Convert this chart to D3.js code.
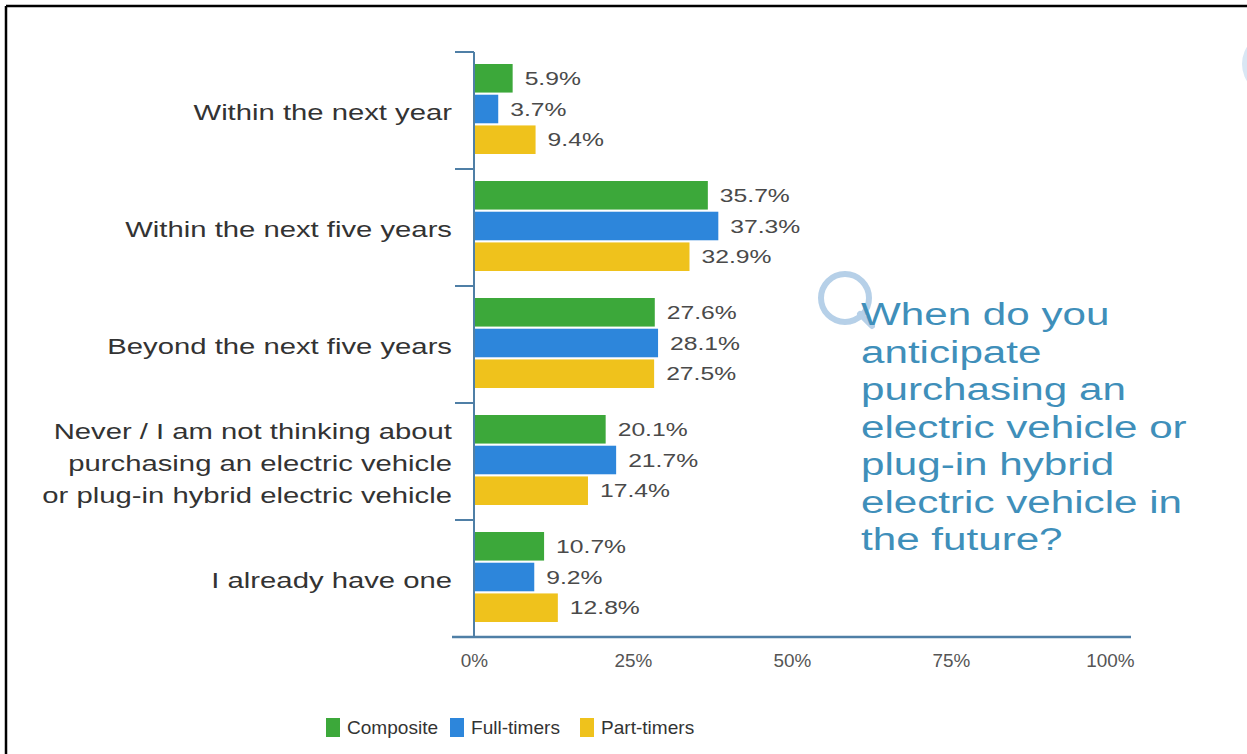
<!DOCTYPE html>
<html>
<head>
<meta charset="utf-8">
<script src="https://cdn.jsdelivr.net/npm/d3@7"></script>
<style>
  body { margin: 0; background: #fff; }
  svg { display: block; font-family: "Liberation Sans", Arial, sans-serif; }
</style>
</head>
<body>
<div id="chart"></div>
<script>
const categories = [
  ['Within the next year'],
  ['Within the next five years'],
  ['Beyond the next five years'],
  ['Never / I am not thinking about', 'purchasing an electric vehicle', 'or plug-in hybrid electric vehicle'],
  ['I already have one'],
];
const series = ['Composite', 'Full-timers', 'Part-timers'];
const composite = [5.9, 35.7, 27.6, 20.1, 10.7];
const fullTimers = [3.7, 37.3, 28.1, 21.7, 9.2];
const partTimers = [9.4, 32.9, 27.5, 17.4, 12.8];
const ticks = [0, 25, 50, 75, 100];
const question = ['When do you', 'anticipate', 'purchasing an', 'electric vehicle or',
  'plug-in hybrid', 'electric vehicle in', 'the future?'];

const colors = { 'Composite': '#3ca83a', 'Full-timers': '#2d86db', 'Part-timers': '#efc21c' };
const values = { 'Composite': composite, 'Full-timers': fullTimers, 'Part-timers': partTimers };

const width = 1247, height = 754;
const svg = d3.select('#chart').append('svg')
  .attr('width', width).attr('height', height);

svg.append('rect').attr('width', width).attr('height', height).attr('fill', '#fff');

// frame edges (top and left only)
svg.append('line').attr('x1', 6).attr('x2', width).attr('y1', 6).attr('y2', 6)
  .attr('stroke', '#000').attr('stroke-width', 2.5);
svg.append('line').attr('x1', 6).attr('x2', 6).attr('y1', 6).attr('y2', height)
  .attr('stroke', '#000').attr('stroke-width', 2.5);

// faint circle at top right
svg.append('circle').attr('cx', 1274).attr('cy', 64).attr('r', 32)
  .attr('fill', '#d9e7f4');

const x0 = 474;
const xScale = d3.scaleLinear().domain([0, 100]).range([x0, 1129]);
const axisScale = d3.scaleLinear().domain([0, 100]).range([x0, 1110]);

const keys = categories.map((c, i) => i);
const yScale = d3.scaleBand().domain(keys).range([52, 637]);
const ySub = d3.scaleBand().domain(series).range([12, 102]).paddingInner(0.07);

const axisColor = '#4f7fa6';

const groups = svg.append('g').selectAll('g')
  .data(keys)
  .join('g')
  .attr('transform', (i) => `translate(0,${yScale(i)})`);

series.forEach((s) => {
  groups.append('rect')
    .attr('x', x0)
    .attr('y', ySub(s))
    .attr('width', (i) => xScale(values[s][i]) - x0)
    .attr('height', ySub.bandwidth())
    .attr('fill', colors[s]);

  // text in the source looks stretched sideways, so scale x a bit
  groups.append('text')
    .attr('transform', (i) =>
      `translate(${xScale(values[s][i]) + 12},${ySub(s) + ySub.bandwidth() / 2}) scale(1.3,1)`)
    .attr('dy', '0.35em')
    .attr('font-size', 19)
    .attr('fill', '#4a4a4a')
    .text((i) => values[s][i].toFixed(1) + '%');
});

// category labels
groups.each(function (i) {
  const lines = categories[i];
  const lh = 32;
  const cy = yScale.bandwidth() / 2 + 2;
  const t = d3.select(this).append('text')
    .attr('transform', 'translate(452,0) scale(1.33,1)')
    .attr('text-anchor', 'end')
    .attr('font-size', 22)
    .attr('fill', '#333');
  lines.forEach((ln, k) => {
    t.append('tspan')
      .attr('x', 0)
      .attr('y', cy + (k - (lines.length - 1) / 2) * lh)
      .attr('dy', '0.35em')
      .text(ln);
  });
});

// vertical axis with group separators
const sepY = keys.map((i) => yScale(i));
svg.append('line').attr('x1', x0).attr('x2', x0).attr('y1', 52).attr('y2', 637)
  .attr('stroke', axisColor).attr('stroke-width', 2);
svg.append('g').selectAll('line').data(sepY).join('line')
  .attr('x1', 455).attr('x2', x0).attr('y1', (d) => d).attr('y2', (d) => d)
  .attr('stroke', axisColor).attr('stroke-width', 2);

// horizontal axis
svg.append('line').attr('x1', 452).attr('x2', 1131).attr('y1', 637).attr('y2', 637)
  .attr('stroke', axisColor).attr('stroke-width', 2.5);

const xAxis = svg.append('g')
  .attr('transform', 'translate(0,637)')
  .call(d3.axisBottom(axisScale).tickValues(ticks).tickSize(0).tickPadding(0)
    .tickFormat((d) => d + '%'));
xAxis.select('.domain').remove();
xAxis.selectAll('.tick text')
  .attr('y', 0).attr('dy', 0)
  .attr('transform', 'translate(0,30) scale(1.08,1)')
  .attr('font-size', 17.5).attr('fill', '#555')
  .attr('font-family', '"Liberation Sans", Arial, sans-serif');

// question text with Q mark
svg.append('circle').attr('cx', 845).attr('cy', 298).attr('r', 24)
  .attr('fill', 'none').attr('stroke', '#b6d0e8').attr('stroke-width', 6);
svg.append('line').attr('x1', 860).attr('y1', 314).attr('x2', 872).attr('y2', 326)
  .attr('stroke', '#b6d0e8').attr('stroke-width', 6).attr('stroke-linecap', 'round');

svg.append('g').selectAll('text').data(question).join('text')
  .attr('transform', (d, i) => `translate(861,${325 + i * 37.5}) scale(1.36,1)`)
  .attr('font-size', 31)
  .attr('fill', '#3f8fba')
  .text((d) => d);

// legend
const legend = svg.append('g').selectAll('g').data(series).join('g')
  .attr('transform', (d, i) => `translate(${[326, 450, 580][i]},718)`);
legend.append('rect').attr('width', 14).attr('height', 19).attr('fill', (d) => colors[d]);
legend.append('text')
  .attr('transform', 'translate(21,10) scale(1.09,1)')
  .attr('dy', '0.35em')
  .attr('font-size', 17.5).attr('fill', '#333').text((d) => d);
</script>
</body>
</html>
